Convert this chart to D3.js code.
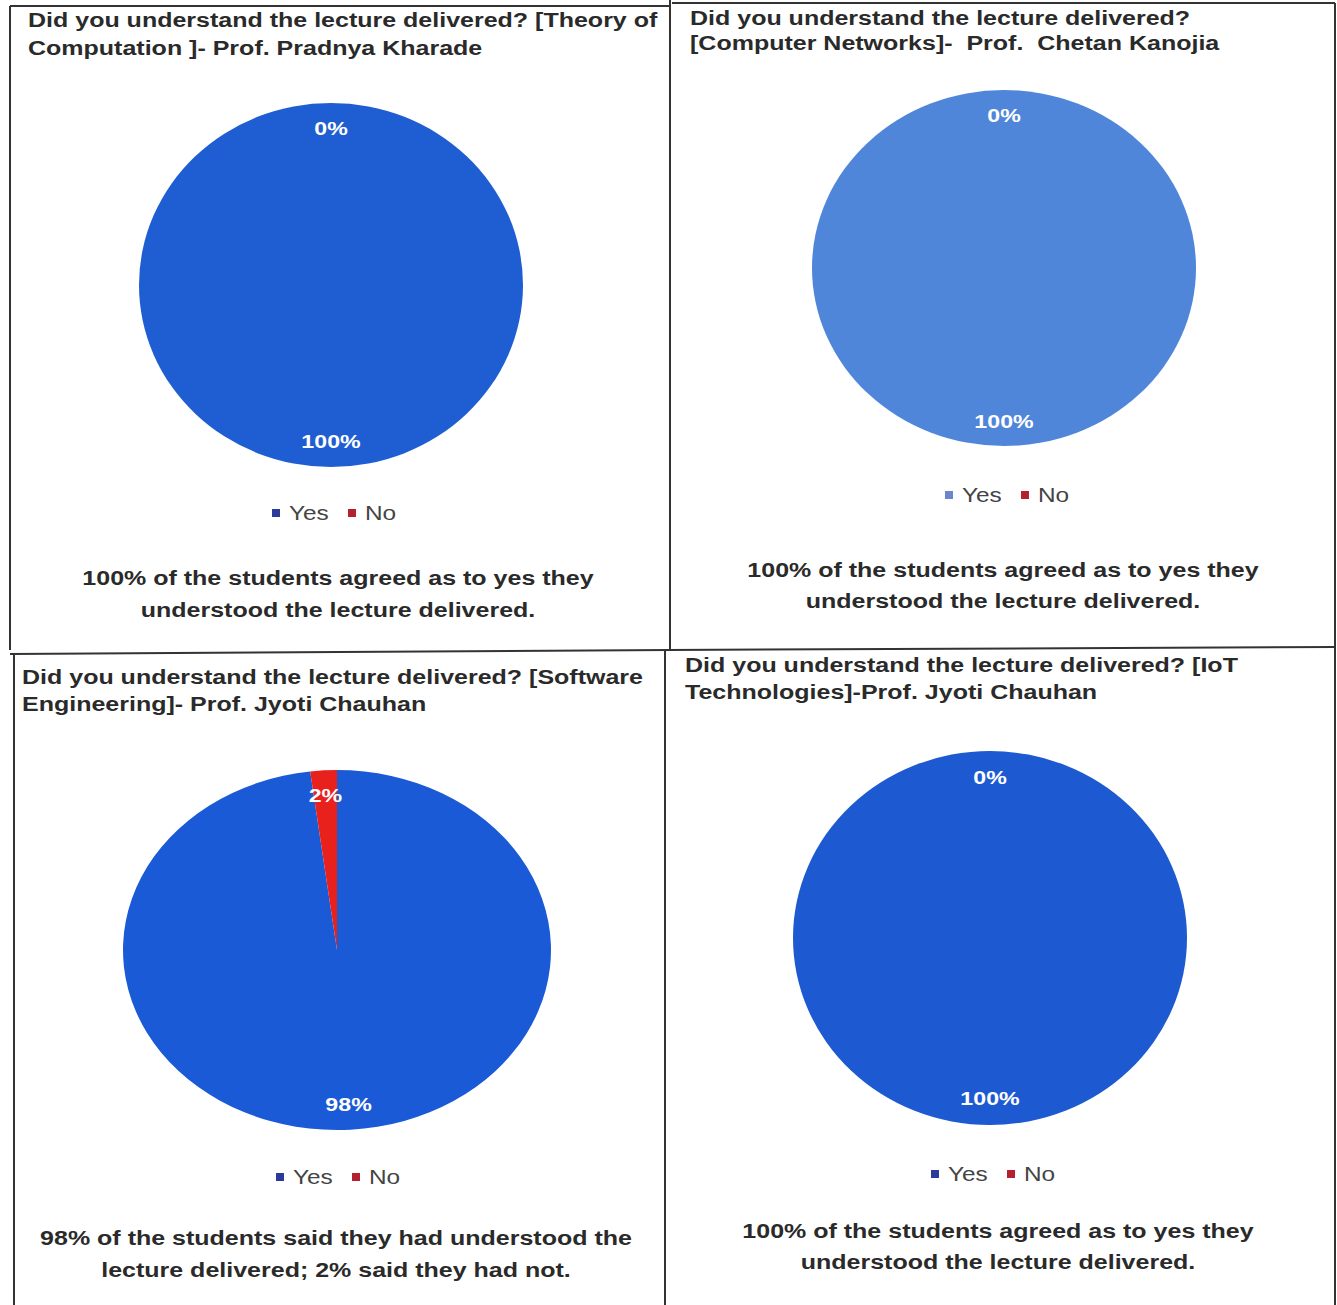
<!DOCTYPE html>
<html><head><meta charset="utf-8">
<script src="https://cdn.jsdelivr.net/npm/d3@7"></script>
<style>
html,body{margin:0;padding:0;background:#fff;}
svg{display:block;}
text{font-family:"Liberation Sans",Arial,sans-serif;white-space:pre;}
</style></head>
<body>
<svg id="c" width="1337" height="1305"></svg>
<script>
// ---- data ----
const categories = ["Yes", "No"];
const titleLines = [
  ["Did you understand the lecture delivered? [Theory of", "Computation ]- Prof. Pradnya Kharade"],
  ["Did you understand the lecture delivered?", "[Computer Networks]-  Prof.  Chetan Kanojia"],
  ["Did you understand the lecture delivered? [Software", "Engineering]- Prof. Jyoti Chauhan"],
  ["Did you understand the lecture delivered? [IoT", "Technologies]-Prof. Jyoti Chauhan"]
];
const yesValues = [100, 100, 98, 100];
const noValues = [0, 0, 2, 0];
const captionLines = [
  ["100% of the students agreed as to yes they", "understood the lecture delivered."],
  ["100% of the students agreed as to yes they", "understood the lecture delivered."],
  ["98% of the students said they had understood the", "lecture delivered; 2% said they had not."],
  ["100% of the students agreed as to yes they", "understood the lecture delivered."]
];

// ---- layout (positions/styles) ----
const SX = 1.22; // horizontal stretch of scanned text
const layout = [
  {tx:28, ty:27, tdy:28, cx:331, cy:285, rx:192, ry:182, lx:334, ly:513, capx:338, capy:585, capdy:32, fill:"#1f5ed2", legY:"#2b3b9c"},
  {tx:690, ty:25, tdy:25, cx:1004, cy:268, rx:192, ry:178, lx:1007, ly:495, capx:1003, capy:577, capdy:31, fill:"#4f86da", legY:"#6b86cc"},
  {tx:22, ty:684, tdy:27, cx:337, cy:950, rx:214, ry:180, lx:338, ly:1177, capx:336, capy:1245, capdy:32, fill:"#1b5ad6", legY:"#2b3b9c"},
  {tx:685, ty:672, tdy:27, cx:990, cy:938, rx:197, ry:187, lx:993, ly:1174, capx:998, capy:1238, capdy:31, fill:"#1d5ad2", legY:"#2b3b9c"}
];
const noFill = "#e8211d";
const legNo = "#b3202e";

const svg = d3.select("#c");

// panel borders
const borders = [
  [10,6,670,6],[10,6,10,650],[670,0,670,650],[672,3,1335,3],[1335,3,1335,1305],
  [10,654,670,650],[14,654,14,1305],[668,650,1335,647],[665,650,665,1305]
];
svg.selectAll("line.b").data(borders).join("line").attr("class","b")
  .attr("x1",d=>d[0]).attr("y1",d=>d[1]).attr("x2",d=>d[2]).attr("y2",d=>d[3])
  .attr("stroke","#333").attr("stroke-width",2);

function stext(parent, x, y, str, opts){
  const t = parent.append("text")
    .attr("transform",`translate(${x},${y}) scale(${SX},1)`)
    .attr("font-size",opts.size).attr("fill",opts.fill)
    .attr("text-anchor",opts.anchor||"start")
    .text(str);
  if(opts.bold) t.attr("font-weight","bold");
  if(opts.dy) t.attr("dy",opts.dy);
  return t;
}

const pie = d3.pie().sort(null).value(d=>d.v);

layout.forEach((L,i)=>{
  const g = svg.append("g");
  titleLines[i].forEach((s,j)=>stext(g, L.tx, L.ty+j*L.tdy, s, {size:20.5,bold:true,fill:"#2a2a2a"}));

  const data = [{k:categories[0],v:yesValues[i]},{k:categories[1],v:noValues[i]}];
  const arcs = pie(data);
  const arc = d3.arc().innerRadius(0).outerRadius(L.ry);
  const labelArc = d3.arc().innerRadius(L.ry*0.86).outerRadius(L.ry*0.86);
  const sx = L.rx/L.ry;
  const pg = g.append("g").attr("transform",`translate(${L.cx},${L.cy}) scale(${sx},1)`);
  pg.selectAll("path").data(arcs.filter(a=>a.endAngle>a.startAngle)).join("path")
    .attr("d",arc).attr("fill",d=>d.data.k==="Yes"?L.fill:noFill);
  arcs.forEach(d=>{
    const c = labelArc.centroid(d);
    stext(g, L.cx + c[0]*sx, L.cy + c[1], d.data.v+"%", {size:19,bold:true,fill:"#fff",anchor:"middle",dy:"0.35em"});
  });

  // legend
  const items = [{k:categories[0],c:L.legY,x:-62},{k:categories[1],c:legNo,x:14}];
  items.forEach(it=>{
    g.append("rect").attr("x",L.lx+it.x).attr("y",L.ly-4).attr("width",8).attr("height",8).attr("fill",it.c);
    stext(g, L.lx+it.x+17, L.ly, it.k, {size:20,fill:"#444",dy:"0.35em"});
  });

  captionLines[i].forEach((s,j)=>stext(g, L.capx, L.capy+j*L.capdy, s, {size:20.5,bold:true,fill:"#2a2a2a",anchor:"middle"}));
});
</script>
</body></html>
